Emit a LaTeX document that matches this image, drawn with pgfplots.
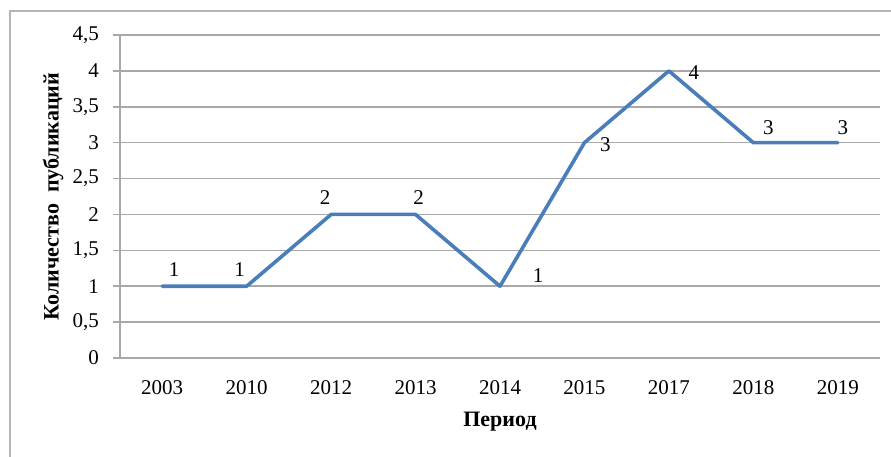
\documentclass[border=0pt]{standalone}
\usepackage{fontspec}
\setmainfont{Liberation Serif}
\usepackage{pgfplots}
\pgfplotsset{compat=1.18}
\usepackage{pgfplotstable}
\definecolor{lineblue}{HTML}{4A7EBB}
\definecolor{gridgray}{HTML}{A8A8A8}
\definecolor{framegray}{HTML}{B4B4B4}

\pgfplotstableread{
x y dx dy
0 1 12 17
1 1 -7 17
2 2 -6 17
3 2 3 17
4 1 38 11
5 3 21 -2
6 4 25 -2
7 3 15 15
8 3 5 15
}\datatable

\begin{document}
\begin{tikzpicture}
\path[use as bounding box] (0,0) rectangle (891pt,456pt);
\draw[framegray, line width=1.5pt] (10pt,-5pt) -- (10pt,445pt) -- (900pt,445pt);
\begin{axis}[
  at={(120pt,98pt)}, anchor=south west,
  scale only axis, width=760pt, height=323pt,
  xmin=-0.5, xmax=8.5, ymin=0, ymax=4.5,
  xtick={0,1,2,3,4,5,6,7,8},
  xticklabels={2003,2010,2012,2013,2014,2015,2017,2018,2019},
  ytick={0,0.5,1,1.5,2,2.5,3,3.5,4,4.5},
  /pgf/number format/.cd, use comma, fixed, assume math mode=true,
  /pgfplots/.cd,
  axis lines*=left,
  x axis line style={draw=none},
  y axis line style={gridgray, line width=1.6pt},
  ymajorgrids, grid style={gridgray, line width=1.6pt},
  xtick style={draw=none},
  ytick style={gridgray, line width=1.6pt},
  tick align=outside, major tick length=7pt,
  tick label style={font=\fontsize{21}{25}\selectfont, text=black},
  xticklabel style={anchor=center, yshift=-23pt},
  yticklabel style={anchor=east, inner sep=0pt, xshift=-14pt},
  xlabel={\textbf{Период}},
  ylabel={\textbf{Количество\ \ публикаций}},
  label style={font=\fontsize{22}{26}\selectfont},
  xlabel style={at={(axis description cs:0.5,-0.198)}, anchor=center},
  ylabel style={at={(axis description cs:-0.088,0.5)}, anchor=center},
  clip=false,
]
\addplot[lineblue, line width=3.6pt, line join=round, line cap=round, mark=none,
  nodes near coords, point meta=y,
  visualization depends on={\thisrow{dx}\as\dx},
  visualization depends on={\thisrow{dy}\as\dy},
  every node near coord/.append style={anchor=center, xshift=\dx pt, yshift=\dy pt, text=black, font=\fontsize{21}{25}\selectfont, inner sep=0pt},
] table[x=x, y=y] {\datatable};
\end{axis}
\end{tikzpicture}
\end{document}
